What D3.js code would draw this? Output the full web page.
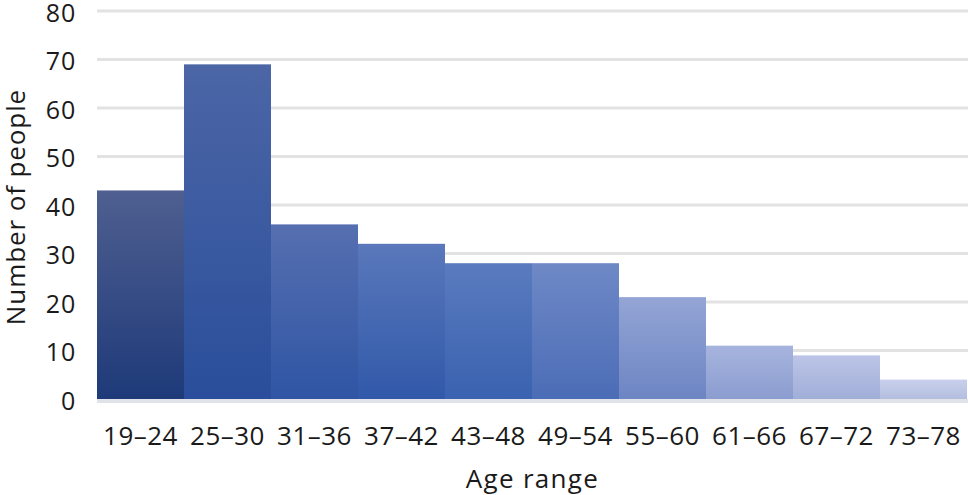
<!DOCTYPE html>
<html>
<head>
<meta charset="utf-8">
<script src="https://cdn.jsdelivr.net/npm/d3@7"></script>
<style>
body{margin:0;background:#fff;}
text{font-family:"Open Sans","Noto Sans",sans-serif;fill:#1a1a1a;}
</style>
</head>
<body>
<svg id="chart" width="968" height="495"></svg>
<script>
// data
var ageRanges = ["19–24","25–30","31–36","37–42","43–48","49–54","55–60","61–66","67–72","73–78"];
var people = [43,69,36,32,28,28,21,11,9,4];
var yTicks = [0,10,20,30,40,50,60,70,80];
// gradient top / bottom for each bar
var topColors = ["#4f5f90","#4c66a6","#566fb0","#5a78bb","#5a7bbe","#6f89c6","#94a5d5","#a7b4de","#bcc5e7","#c9d0ec"];
var bottomColors = ["#1e3a79","#2a4e9b","#2f55a4","#3159a9","#3a62b0","#4b6cb6","#6c85c3","#8b9ccf","#a1aed8","#b4bedf"];

var svg = d3.select("#chart");
var margin = {left:97, right:1, top:11, bottom:96};
var W = 968, H = 495;

var x = d3.scaleBand().domain(ageRanges).range([margin.left, W-margin.right]).padding(0);
var y = d3.scaleLinear().domain([0,80]).range([H-margin.bottom, margin.top]);

var defs = svg.append("defs");
ageRanges.forEach(function(d,i){
	var g = defs.append("linearGradient").attr("id","grad"+i)
		.attr("x1",0).attr("y1",0).attr("x2",0).attr("y2",1);
	g.append("stop").attr("offset","0%").attr("stop-color",topColors[i]);
	g.append("stop").attr("offset","100%").attr("stop-color",bottomColors[i]);
});

//网格线
svg.append("g")
	.selectAll("line")
	.data(yTicks.filter(function(t){return t>0;}))
	.enter().append("line")
	.attr("x1",margin.left).attr("x2",W)
	.attr("y1",function(d){return y(d);})
	.attr("y2",function(d){return y(d);})
	.attr("stroke","#e2e2e2")
	.attr("stroke-width",3);

//柱子
svg.append("g")
	.selectAll("rect")
	.data(people)
	.enter().append("rect")
	.attr("x",function(d,i){return x(ageRanges[i]);})
	.attr("width",x.bandwidth())
	.attr("y",function(d){return y(d);})
	.attr("height",function(d){return y(0)-y(d);})
	.attr("fill",function(d,i){return "url(#grad"+i+")";});

// baseline
svg.append("line")
	.attr("x1",margin.left).attr("x2",W)
	.attr("y1",y(0)+2).attr("y2",y(0)+2)
	.attr("stroke","#e1e3e8").attr("stroke-width",4);

// y axis labels
var yAxis = d3.axisLeft(y).tickValues(yTicks).tickSize(0).tickPadding(21);
var ya = svg.append("g").attr("transform","translate("+margin.left+",0)").call(yAxis);
ya.select(".domain").remove();
ya.selectAll("text").style("font-size","25px").style("letter-spacing","0.8px")
	.style("font-family","'Open Sans',sans-serif").attr("fill","#1a1a1a").attr("dy","0.4em");

// x axis labels
var xAxis = d3.axisBottom(x).tickSize(0).tickPadding(28);
var xa = svg.append("g").attr("transform","translate(0,"+y(0)+")").call(xAxis);
xa.select(".domain").remove();
xa.selectAll("text").style("font-size","26px").style("letter-spacing","0.5px")
	.style("font-family","'Open Sans',sans-serif").attr("fill","#1a1a1a");

svg.append("text")
	.attr("x",(margin.left+W)/2).attr("y",488)
	.attr("text-anchor","middle")
	.style("font-size","26px").style("letter-spacing","1.3px")
	.text("Age range");

svg.append("text")
	.attr("transform","translate(25,"+((y(0)+y(80))/2+2)+") rotate(-90)")
	.attr("text-anchor","middle")
	.style("font-size","26px").style("letter-spacing","0.9px")
	.text("Number of people");
</script>
</body>
</html>
